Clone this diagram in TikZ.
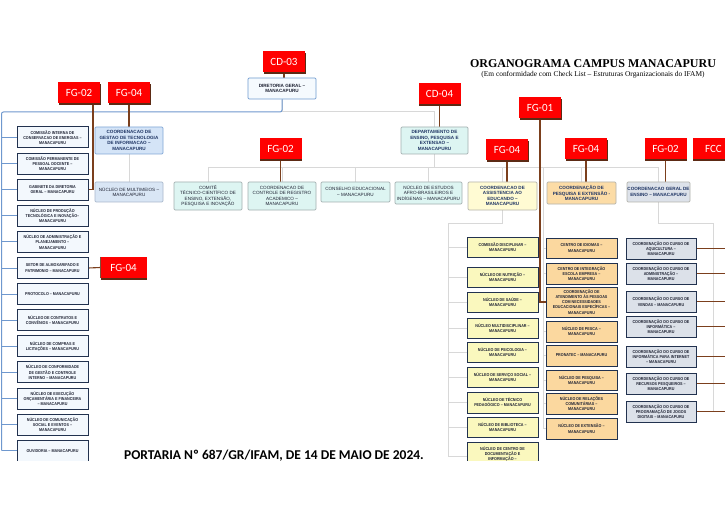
\documentclass[tikz,border=0pt]{standalone}
\usepackage{fontspec}
\setmainfont{Liberation Sans}
\newfontfamily\calib{Carlito}
\newfontfamily\serift{Liberation Serif}
\newfontfamily\narrowf[FakeStretch=0.88]{Liberation Sans}
\usetikzlibrary{shadows,calc}
\pgfdeclarelayer{bg}
\pgfsetlayers{bg,main}
\definecolor{labred}{HTML}{FF0000}
\definecolor{labshadow}{HTML}{5C2A14}
\definecolor{brownc}{HTML}{7B3F1D}
\definecolor{greyc}{HTML}{D8D8D8}
\definecolor{bluec}{HTML}{6F98CE}
\definecolor{navy}{HTML}{1F3564}
\definecolor{navyb}{HTML}{22324F}
\definecolor{dgfill}{HTML}{F5FAFE}
\definecolor{dgdraw}{HTML}{6F9BD0}
\definecolor{tifill}{HTML}{D4E4F7}
\definecolor{tidraw}{HTML}{80A6D6}
\definecolor{mufill}{HTML}{D9E6F5}
\definecolor{mudraw}{HTML}{A9B8CC}
\definecolor{aqfill}{HTML}{DDF5F2}
\definecolor{aqdraw}{HTML}{A3B0B0}
\definecolor{caefill}{HTML}{FFFBD3}
\definecolor{cpefill}{HTML}{FCDCA6}
\definecolor{cgefill}{HTML}{DDE2EA}
\definecolor{topdraw}{HTML}{B3B3AC}
\definecolor{yfill}{HTML}{FAF8BE}
\definecolor{ofill}{HTML}{FBD89F}
\definecolor{gfill}{HTML}{DCE1E9}
\definecolor{lfill}{HTML}{F3F8FD}
\definecolor{coltext}{HTML}{1E2233}
\begin{document}
\begin{tikzpicture}[x=1pt,y=-1pt,
  redlab/.style={fill=labred, text=white, font=\calib\fontsize{11}{11}\selectfont,
    minimum width=42pt, minimum height=21pt, inner sep=0pt,
    drop shadow={shadow xshift=0.5pt, shadow yshift=-1.8pt, fill=labshadow, opacity=1}},
  topbox/.style={rounded corners=1.2pt, line width=0.7pt, inner sep=0pt, align=center,
    font=\bfseries\fontsize{4.6}{5.5}\selectfont, text=navy},
  aqbox/.style={topbox, fill=aqfill, draw=aqdraw, text=coltext,
    font=\fontsize{4.6}{5.5}\selectfont},
  colbox/.style={draw=navyb, line width=1pt, inner sep=0pt, align=center,
    minimum width=71pt, minimum height=21pt, text=coltext,
    font=\narrowf\bfseries\fontsize{4.2}{5.3}\selectfont},
  lbox/.style={colbox, fill=lfill},
  ybox/.style={colbox, fill=yfill},
  obox/.style={colbox, fill=ofill},
  gbox/.style={colbox, fill=gfill, minimum width=70pt},
  brownl/.style={draw=brownc, line width=1.1pt},
  greyl/.style={draw=greyc, line width=1pt},
  bluel/.style={draw=bluec, line width=1pt, rounded corners=2pt}
]
\useasboundingbox (0,0) rectangle (725,513);
\begin{pgfonlayer}{bg}
\fill[white] (0,0) rectangle (725,513);
\end{pgfonlayer}

% titles
\node[anchor=base, font=\serift\bfseries\fontsize{12}{12}\selectfont] (title) at (593,67.5) {ORGANOGRAMA CAMPUS MANACAPURU};
\node[anchor=base, font=\serift\fontsize{7.4}{7.4}\selectfont] (subtitle) at (593,76.5) {(Em conformidade com Check List – Estruturas Organizacionais do IFAM)};
\node[anchor=base, font=\calib\bfseries\fontsize{13.5}{13.5}\selectfont] (portaria) at (274,459) {PORTARIA Nº 687/GR/IFAM, DE 14 DE MAIO DE 2024.};

\begin{scope}
\clip (0,0) rectangle (725,460);

% red labels
\node[redlab] (cd03) at (284,62) {CD-03};
\node[redlab] (fg02a) at (79,92.5) {FG-02};
\node[redlab] (fg04a) at (129,92.5) {FG-04};
\node[redlab] (fg02b) at (280.5,149) {FG-02};
\node[redlab] (cd04) at (439.5,94) {CD-04};
\node[redlab] (fg01) at (540,108) {FG-01};
\node[redlab] (fg04b) at (507,150) {FG-04};
\node[redlab] (fg04c) at (586,148.5) {FG-04};
\node[redlab] (fg02c) at (665.5,149) {FG-02};
\node[redlab] (fcc) at (713.5,149) {FCC};
\node[redlab, minimum width=46pt] (fg04d) at (123.5,267.5) {FG-04};

% top level boxes
\node[topbox, fill=dgfill, draw=dgdraw, minimum width=68pt, minimum height=21pt, text=coltext] (dg) at (282,88.5) {DIRETORIA GERAL –\\MANACAPURU};
\node[topbox, fill=tifill, draw=tidraw, minimum width=68pt, minimum height=27pt] (cti) at (129,140.5) {COORDENACAO DE\\GESTAO DE TECNOLOGIA\\DE INFORMACAO –\\MANACAPURU};
\node[aqbox, fill=mufill, draw=mudraw, minimum width=68pt, minimum height=20pt] (multi) at (129,192) {NÚCLEO DE MULTIMEIOS –\\MANACAPURU};
\node[topbox, fill=aqfill, draw=aqdraw, minimum width=67pt, minimum height=27pt] (dep) at (434.5,140.5) {DEPARTAMENTO DE\\ENSINO, PESQUISA E\\EXTENSAO –\\MANACAPURU};
\node[aqbox, minimum width=68pt, minimum height=28pt] (comite) at (208,196) {COMITÊ\\TÉCNICO-CIENTÍFICO DE\\ENSINO, EXTENSÃO,\\PESQUISA E INOVAÇÃO};
\node[aqbox, minimum width=68pt, minimum height=28pt] (ccra) at (282,196) {COORDENACAO DE\\CONTROLE DE REGISTRO\\ACADEMICO –\\MANACAPURU};
\node[aqbox, minimum width=69pt, minimum height=20pt] (conselho) at (355.5,192) {CONSELHO EDUCACIONAL\\– MANACAPURU};
\node[aqbox, minimum width=67pt, minimum height=22pt] (neabi) at (428.5,193) {NÚCLEO DE ESTUDOS\\AFRO-BRASILEIROS E\\INDÍGENAS – MANACAPURU};
\node[topbox, fill=caefill, draw=topdraw, minimum width=69pt, minimum height=28pt] (cae) at (502.5,196) {COORDENACAO DE\\ASSISTENCIA AO\\EDUCANDO –\\MANACAPURU};
\node[topbox, fill=cpefill, draw=topdraw, minimum width=69pt, minimum height=22pt] (cpe) at (581.5,193) {COORDENAÇÃO DE\\PESQUISA E EXTENSÃO -\\MANACAPURU};
\node[topbox, fill=cgefill, draw=topdraw, minimum width=63pt, minimum height=20pt] (cge) at (658.5,192) {COORDENACAO GERAL DE\\ENSINO – MANACAPURU};

% left column
\node[lbox] (l1) at (52.5,137.5) {COMISSÃO INTERNA DE\\CONSERVACAO DE ENERGIAS –\\MANACAPURU};
\node[lbox] (l2) at (52.5,163.6) {COMISSÃO PERMANENTE DE\\PESSOAL DOCENTE –\\MANACAPURU};
\node[lbox] (l3) at (52.5,189.7) {GABINETE DA DIRETORIA\\GERAL – MANACAPURU};
\node[lbox] (l4) at (52.5,215.8) {NÚCLEO DE PRODUÇÃO\\TECNOLÓGICA E INOVAÇÃO–\\MANACAPURU};
\node[lbox] (l5) at (52.5,241.9) {NÚCLEO DE ADMINISTRAÇÃO E\\PLANEJAMENTO –\\MANACAPURU};
\node[lbox] (l6) at (52.5,268) {SETOR DE ALMOXARIFADO E\\PATRIMONIO – MANACAPURU};
\node[lbox] (l7) at (52.5,294.1) {PROTOCOLO – MANACAPURU};
\node[lbox] (l8) at (52.5,320.2) {NÚCLEO DE CONTRATOS E\\CONVÊNIOS – MANACAPURU};
\node[lbox] (l9) at (52.5,346.3) {NÚCLEO DE COMPRAS E\\LICITAÇÕES – MANACAPURU};
\node[lbox] (l10) at (52.5,372.4) {NÚCLEO DE CONFORMIDADE\\DE GESTÃO E CONTROLE\\INTERNO – MANACAPURU};
\node[lbox] (l11) at (52.5,398.5) {NÚCLEO DE EXECUÇÃO\\ORÇAMENTÁRIA E FINANCEIRA\\– MANACAPURU};
\node[lbox] (l12) at (52.5,424.6) {NÚCLEO DE COMUNICAÇÃO\\SOCIAL E EVENTOS –\\MANACAPURU};
\node[lbox] (l13) at (52.5,450.7) {OUVIDORIA – MANACAPURU};

% yellow column
\node[ybox, minimum height=20pt] (y1) at (502.5,247.5) {COMISSÃO DISCIPLINAR –\\MANACAPURU};
\node[ybox, minimum height=20pt] (y2) at (502.5,277) {NÚCLEO DE NUTRIÇÃO –\\MANACAPURU};
\node[ybox, minimum height=20pt] (y3) at (502.5,302) {NÚCLEO DE SAÚDE –\\MANACAPURU};
\node[ybox, minimum height=20pt] (y4) at (502.5,328) {NÚCLEO MULTIDISCIPLINAR –\\MANACAPURU};
\node[ybox, minimum height=20pt] (y5) at (502.5,352) {NÚCLEO DE PSICOLOGIA –\\MANACAPURU};
\node[ybox, minimum height=20pt] (y6) at (502.5,377) {NÚCLEO DE SERVIÇO SOCIAL –\\MANACAPURU};
\node[ybox] (y7) at (502.5,402.5) {NÚCLEO DE TÉCNICO\\PEDAGÓGICO – MANACAPURU};
\node[ybox, minimum height=20pt] (y8) at (502.5,427) {NÚCLEO DE BIBLIOTECA –\\MANACAPURU};
\node[ybox, minimum height=28pt, anchor=north] (y9) at (502.5,442) {NÚCLEO DE CENTRO DE\\DOCUMENTAÇÃO E\\INFORMAÇÃO –\\MANACAPURU};

% orange column
\node[obox, minimum height=20pt] (o1) at (581.5,248) {CENTRO DE IDIOMAS –\\MANACAPURU};
\node[obox] (o2) at (581.5,273.5) {CENTRO DE INTEGRAÇÃO\\ESCOLA EMPRESA –\\MANACAPURU};
\node[obox, minimum height=30pt, font=\narrowf\bfseries\fontsize{4.2}{5.1}\selectfont] (o3) at (581.5,302) {COORDENAÇÃO DE\\ATENDIMENTO ÀS PESSOAS\\COM NECESSIDADES\\EDUCACIONAIS ESPECÍFICAS –\\MANACAPURU};
\node[obox] (o4) at (581.5,331.5) {NÚCLEO DE PESCA –\\MANACAPURU};
\node[obox] (o5) at (581.5,355.5) {PRONATEC – MANACAPURU};
\node[obox, minimum height=20pt] (o6) at (581.5,380) {NÚCLEO DE PESQUISA –\\MANACAPURU};
\node[obox] (o7) at (581.5,403.5) {NÚCLEO DE RELAÇÕES\\COMUNITÁRIAS –\\MANACAPURU};
\node[obox] (o8) at (581.5,428.5) {NÚCLEO DE EXTENSÃO –\\MANACAPURU};

% grey column
\node[gbox] (g1) at (661,248.5) {COORDENAÇÃO DO CURSO DE\\AQUICULTURA –\\MANACAPURU};
\node[gbox] (g2) at (661,273.5) {COORDENAÇÃO DO CURSO DE\\ADMINISTRAÇÃO –\\MANACAPURU};
\node[gbox] (g3) at (661,301.5) {COORDENAÇÃO DO CURSO DE\\VENDAS – MANACAPURU};
\node[gbox] (g4) at (661,326.5) {COORDENAÇÃO DO CURSO DE\\INFORMÁTICA –\\MANACAPURU};
\node[gbox] (g5) at (661,356.5) {COORDENAÇÃO DO CURSO DE\\INFORMÁTICA PARA INTERNET\\– MANACAPURU};
\node[gbox] (g6) at (661,383.5) {COORDENAÇÃO DO CURSO DE\\RECURSOS PESQUEIROS –\\MANACAPURU};
\node[gbox] (g7) at (661,411.5) {COORDENAÇÃO DO CURSO DE\\PROGRAMAÇÃO DE JOGOS\\DIGITAIS – MANACAPURU};

% connectors
\coordinate (busA) at (0,112);
\coordinate (busB) at (0,168);
\coordinate (lbus) at (1.5,112);
\coordinate (ybus) at (448,223);
\coordinate (obus) at (543.5,168);
\coordinate (gbus) at (713,223);
\coordinate (redge) at (728,0);
\begin{pgfonlayer}{bg}
  \draw[greyl] (dg.south) |- (busA -| dep.north) -- (dep.north);
  \draw[bluel] (dg.south) |- (lbus) -- (lbus |- l13.west);
  \foreach \i in {1,...,13} \draw[bluel] (lbus |- l\i.west) -- (l\i.west);
  \draw[greyl] (cti.south) -- (multi.north);
  \draw[greyl] (dep.south) -- (dep.south |- busB);
  \draw[greyl] (comite.north) |- (busB -| cge.north) -- (cge.north);
  \foreach \n in {ccra,conselho,neabi,cae,cpe} \draw[greyl] (\n.north) -- (\n.north |- busB);
  \draw[greyl] (cae.south) |- (ybus) -- (ybus |- y9.west);
  \foreach \i in {1,...,9} \draw[greyl] (ybus |- y\i.west) -- (y\i.west);
  \draw[greyl] (obus) -- (obus |- o8.west);
  \foreach \i in {1,...,8} \draw[greyl] (obus |- o\i.west) -- (o\i.west);
  \draw[greyl] (cge.south) |- (gbus) -- (gbus |- g7.east);
  \foreach \i in {1,...,7} \draw[brownl] (g\i.east) -- (g\i.east -| redge);
  \draw[brownl] (cd03.south) -- (cd03.south |- dg.north);
  \draw[brownl] (fg04a.south) -- (fg04a.south |- cti.north);
  \draw[brownl] ($(fg02a.south)+(14,0)$) |- (l3.east);
  \draw[brownl] (fg02b.south) -- (fg02b.south |- ccra.north);
  \draw[brownl] (cd04.south) -- (cd04.south |- dep.north);
  \draw[brownl] (fg01.south) |- (o3.west);
  \draw[brownl] (fg04b.south) -- (fg04b.south |- cae.north);
  \draw[brownl] (fg04c.south) -- (fg04c.south |- cpe.north);
  \draw[brownl] (fg02c.south) -- (fg02c.south |- cge.north);
  \draw[brownl] (l6.east) -- (fg04d.west);
\end{pgfonlayer}
\draw[draw=brownc!70!gray, line width=1.5pt] (fg04d.north west) -- (fg04d.south west);
\end{scope}
\end{tikzpicture}
\end{document}
